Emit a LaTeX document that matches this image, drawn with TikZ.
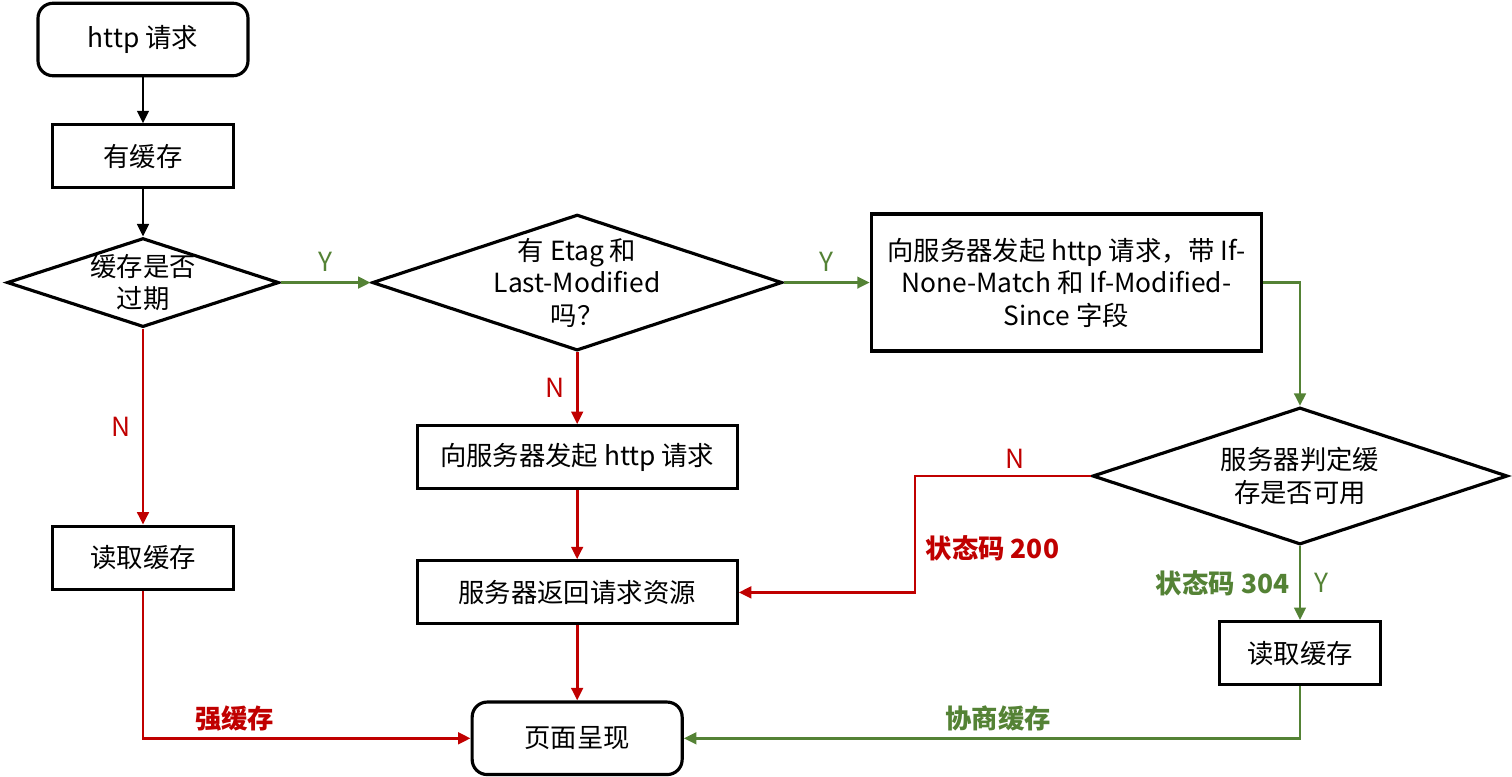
\documentclass[tikz,border=0pt]{standalone}
\usepackage{fontspec}
\setmainfont{Noto Sans CJK SC}
\usetikzlibrary{arrows.meta,positioning,shapes}
\usepackage{xcolor}
\definecolor{flowred}{HTML}{C00000}
\definecolor{flowgreen}{HTML}{548235}

\begin{document}
\begin{tikzpicture}[
    node distance=1cm,
    font=\fontsize{15}{18.5}\selectfont,
    box/.style={draw,line width=1.8pt,minimum width=3.62cm,minimum height=1.26cm,align=center},
    term/.style={box,rounded corners=0.3cm,minimum width=4.2cm,minimum height=1.45cm},
    dia/.style={diamond,draw,line width=1.8pt,inner sep=0pt},
    link/.style={->,line width=1.6pt},
    ylink/.style={link,flowgreen},
    nlink/.style={link,flowred},
    lbl/.style={font=\fontsize{15}{18}\selectfont\bfseries},
    >={Triangle[length=2.5mm,width=2.3mm]}
]
\useasboundingbox (0,0) rectangle (30.24,-15.54);

\node[term] (req) at (2.86,-0.79) {http 请求};
\node[box,below=0.92cm of req] (cache) {有缓存};
\node[dia,minimum width=5.44cm,minimum height=1.78cm,below=0.94cm of cache,
      label={[align=center]center:缓存是否\\过期}] (expired) {};
\node[dia,minimum width=8.2cm,minimum height=2.72cm,right=1.8cm of expired,
      label={[align=center]center:有 Etag 和\\Last-Modified\\吗？}] (etag) {};
\node[box,minimum width=7.8cm,minimum height=2.74cm,right=1.72cm of etag]
      (cond) {向服务器发起 http 请求，带 If-\\None-Match 和 If-Modified-\\Since 字段};
\node[box,minimum width=6.4cm,below=1.44cm of etag] (plain) {向服务器发起 http 请求};
\node[box,minimum width=6.4cm,below=1.38cm of plain] (resp) {服务器返回请求资源};
\node[term,below=1.5cm of resp] (render) {页面呈现};
\node[box,below=3.92cm of expired] (read1) {读取缓存};
\node[dia,minimum width=8.3cm,minimum height=2.74cm,
      label={[align=center]center:服务器判定缓\\存是否可用}] (judge) at (26,-9.52) {};
\node[box,minimum width=3.22cm,below=1.48cm of judge] (read2) {读取缓存};
\coordinate (bend200) at (18.3,-9.52);

\draw[link] (req) -- (cache);
\draw[link] (cache) -- (expired);
\draw[ylink] (expired) -- node[above=2pt] {Y} (etag);
\draw[ylink] (etag) -- node[above=2pt] {Y} (cond);
\draw[nlink] (expired) -- node[left=3pt] {N} (read1);
\draw[nlink] (etag) -- node[left=3pt] {N} (plain);
\draw[nlink] (plain) -- (resp);
\draw[nlink] (resp) -- (render);
\draw[nlink] (read1) |- node[pos=0.64,above,lbl] {强缓存} (render);
\draw[ylink] (cond) -| (judge);
\draw[nlink] (judge) -- node[pos=0.43,above] {N} (bend200)
    |- node[pos=0.31,right=2pt,lbl] {状态码 200} (resp);
\draw[ylink] (judge) -- node[left=2pt,lbl] {状态码 304} node[right=4pt] {Y} (read2);
\draw[ylink] (read2) |- node[pos=0.745,above,lbl] {协商缓存} (render);

\end{tikzpicture}
\end{document}
